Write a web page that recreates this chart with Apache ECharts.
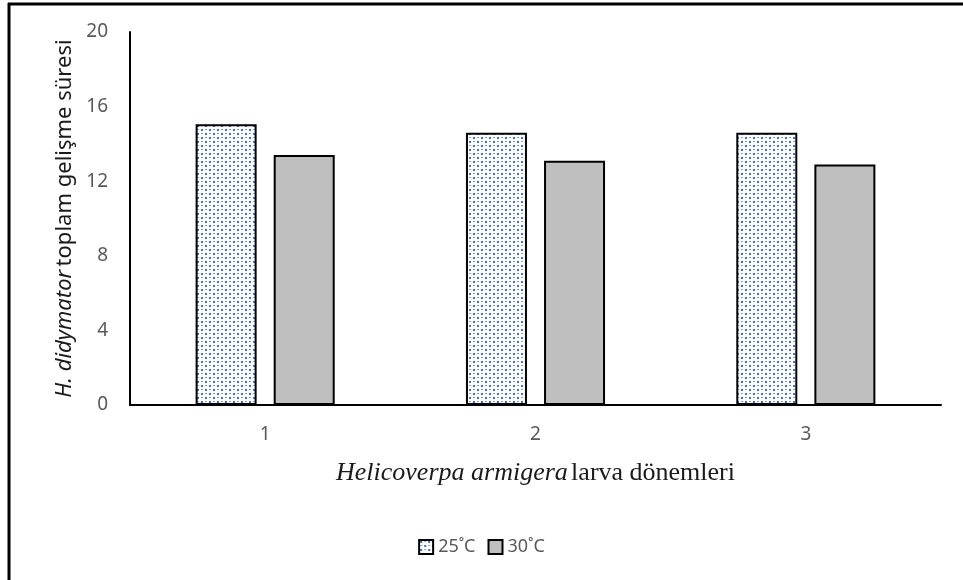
<!DOCTYPE html>
<html><head><meta charset="utf-8">
<script src="https://cdn.jsdelivr.net/npm/echarts@6/dist/echarts.min.js"></script>
<style>html,body{margin:0;padding:0;background:#fff}#c{width:963px;height:580px}</style>
</head><body><div id="c"></div>
<script>
var categories = ['1', '2', '3'];
var series25 = [15.05, 14.6, 14.6];
var series30 = [13.4, 13.1, 12.9];
var seriesNames = ['25˚C', '30˚C'];
var yTicks = {min: 0, max: 20, interval: 4};

function makePattern() {
  var cv = document.createElement('canvas');
  cv.width = 8; cv.height = 8;
  var ctx = cv.getContext('2d');
  ctx.fillStyle = '#ffffff'; ctx.fillRect(0, 0, 8, 8);
  ctx.fillStyle = '#3f6fc6';
  ctx.fillRect(1, 1, 2, 2);
  ctx.fillRect(5, 5, 2, 2);
  ctx.fillStyle = '#7f9fdc';
  ctx.fillRect(5, 1, 2, 1);
  ctx.fillRect(1, 5, 2, 1);
  return cv;
}
var pat = {image: makePattern(), repeat: 'repeat'};

var chart = echarts.init(document.getElementById('c'));
chart.setOption({
  animation: false,
  backgroundColor: '#fff',
  grid: {left: 130, right: 22, top: 32, bottom: 175},
  legend: {
    data: seriesNames, bottom: 19, left: 'center',
    icon: 'rect', itemWidth: 14, itemHeight: 14, itemGap: 12,
    textStyle: {fontFamily: 'Noto Sans', fontSize: 18, color: '#595959'}
  },
  xAxis: {
    type: 'category', data: categories,
    axisLine: {lineStyle: {color: '#000', width: 2}},
    axisTick: {show: false},
    axisLabel: {fontFamily: 'Noto Sans', fontSize: 19, color: '#595959', margin: 20},
    name: '{i|Helicoverpa armigera} {n|larva dönemleri}',
    nameLocation: 'middle', nameGap: 55,
    nameTextStyle: {
      rich: {
        i: {fontFamily: 'Liberation Serif', fontStyle: 'italic', fontSize: 26, color: '#1a1a1a'},
        n: {fontFamily: 'Liberation Serif', fontSize: 26, color: '#1a1a1a'}
      }
    }
  },
  yAxis: {
    type: 'value', min: yTicks.min, max: yTicks.max, interval: yTicks.interval,
    axisLine: {show: true, lineStyle: {color: '#000', width: 2}},
    axisTick: {show: false},
    splitLine: {show: false},
    axisLabel: {fontFamily: 'Noto Sans', fontSize: 19, color: '#595959', margin: 22},
    name: '{i|H. didymator} {n|toplam gelişme süresi}',
    nameLocation: 'middle', nameGap: 53, nameRotate: 90,
    nameTextStyle: {
      rich: {
        i: {fontFamily: 'Noto Sans', fontStyle: 'italic', fontSize: 22, color: '#1a1a1a'},
        n: {fontFamily: 'Noto Sans', fontSize: 22, color: '#1a1a1a'}
      }
    }
  },
  series: [
    {name: seriesNames[0], type: 'bar', data: series25, barWidth: 61, barGap: '28%',
     itemStyle: {color: pat, borderColor: '#000', borderWidth: 2}},
    {name: seriesNames[1], type: 'bar', data: series30, barWidth: 61,
     itemStyle: {color: '#BFBFBF', borderColor: '#000', borderWidth: 2}}
  ],
  graphic: [
    {type: 'line', shape: {x1: 9, y1: 3, x2: 9, y2: 580}, style: {stroke: '#000', lineWidth: 3}},
    {type: 'line', shape: {x1: 8, y1: 4, x2: 963, y2: 4}, style: {stroke: '#000', lineWidth: 3}}
  ]
});
</script></body></html>
